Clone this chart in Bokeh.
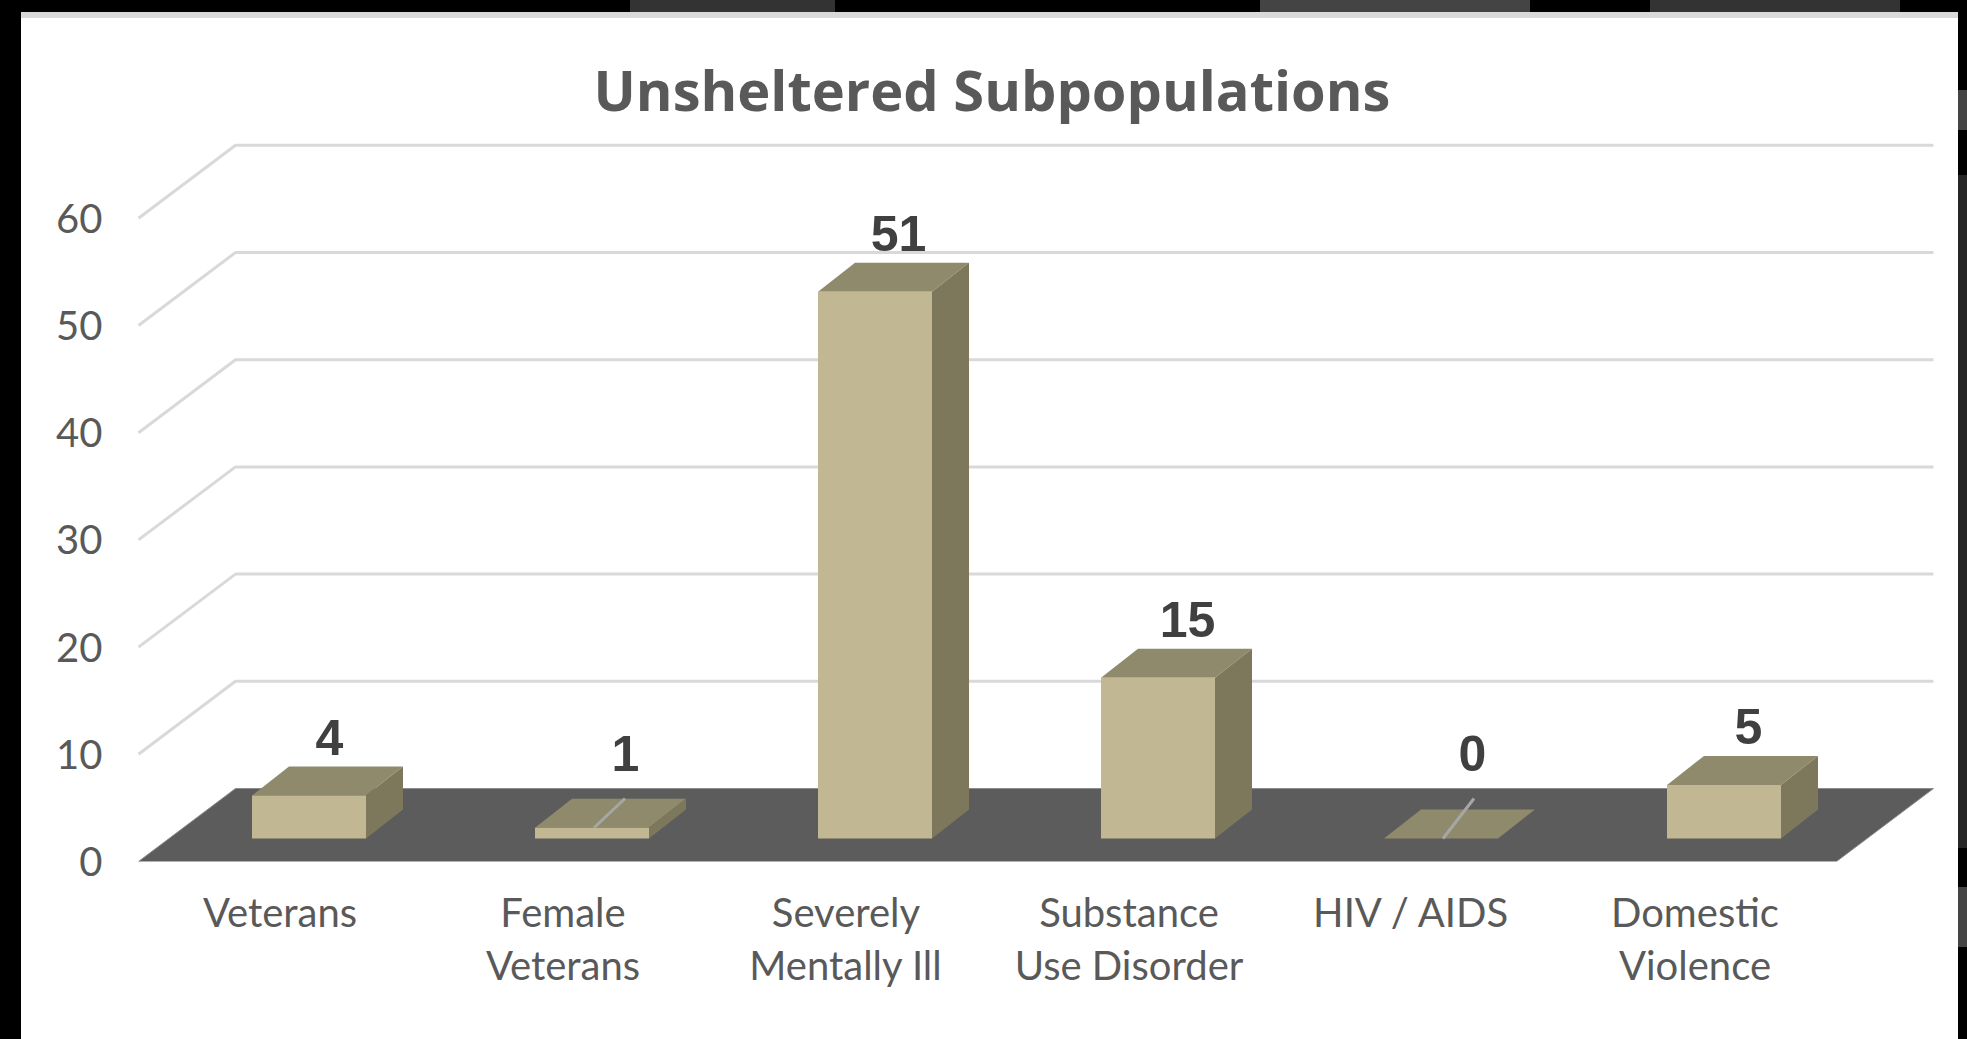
from bokeh.embed import file_html
from bokeh.resources import INLINE
from bokeh.plotting import figure
from bokeh.models import FixedTicker, Range1d, ColumnDataSource, Title
from bokeh.core.properties import value

categories = ["Veterans", "Female\nVeterans", "Severely\nMentally Ill", "Substance\nUse Disorder", "HIV / AIDS", "Domestic\nViolence"]
counts = [4, 1, 51, 15, 0, 5]
label_lift = [0, 1.5, 0, 0, 2.5, 0]
label_shift = [2, 15, 5, 11, 13, 6]
y_ticks = [0, 10, 20, 30, 40, 50, 60]

# oblique projection, in slot / value units
SLOT_PX, UNIT_PX = 283.0, 10.72
FLOOR_DX, FLOOR_DY = 97 / SLOT_PX, 73 / UNIT_PX
BAR_DX, BAR_DY = 37 / SLOT_PX, 29 / UNIT_PX
BAR_L, BAR_W = 113.5 / SLOT_PX, 114 / SLOT_PX
BAR_BASE = 23 / UNIT_PX
N = len(categories)

FRONT, TOP, SIDE, FLOOR, GRID = "#C1B792", "#908A6C", "#7D785C", "#5C5C5C", "#D9D9D9"
LEFT, BOTTOM, RIGHT, CEIL = 118, 861, 1967, 130

p = figure(width=1967, height=1039, output_backend="svg", toolbar_location=None,
           x_range=Range1d((LEFT - 138) / SLOT_PX, (RIGHT - 138) / SLOT_PX),
           y_range=Range1d(0, (BOTTOM - CEIL) / UNIT_PX),
           min_border_left=LEFT, min_border_right=0, min_border_top=CEIL, min_border_bottom=1039 - BOTTOM)
p.border_fill_alpha = 0
p.background_fill_alpha = 0
p.outline_line_color = None
p.grid.visible = False

p.add_layout(Title(text="Unsheltered Subpopulations", align="left", offset=475, standoff=7,
                   text_font="Open Sans", text_font_size="56px", text_font_style="bold", text_color="#595959"), "above")

xa, ya = p.xaxis[0], p.yaxis[0]
xa.ticker = FixedTicker(ticks=[i + 0.5 for i in range(N)])
xa.major_label_overrides = {i + 0.5: c for i, c in enumerate(categories)}
ya.ticker = FixedTicker(ticks=y_ticks)
for a in (xa, ya):
    a.axis_line_color = None
    a.major_tick_line_color = None
    a.minor_tick_line_color = None
    a.major_label_text_font = "Lato"
    a.major_label_text_font_size = "40px"
    a.major_label_text_color = "#595959"
xa.major_label_standoff = 20
xa.major_label_text_line_height = 1.12
ya.major_label_standoff = 10

# gridlines: up the side wall, then along the back wall
p.multi_line([[0, FLOOR_DX, N + FLOOR_DX] for t in y_ticks[1:]],
             [[t, t + FLOOR_DY, t + FLOOR_DY] for t in y_ticks[1:]],
             line_color=GRID, line_width=3)

# floor
p.patch([0, FLOOR_DX, N + FLOOR_DX, N], [0, FLOOR_DY, FLOOR_DY, 0],
        fill_color=FLOOR, line_color="#8C8C8C", line_width=1)

# bars
lefts = [i + BAR_L for i in range(N)]
rights = [x + BAR_W for x in lefts]
tops = [BAR_BASE + v for v in counts]
p.patches([[l, l + BAR_DX, r + BAR_DX, r] for l, r in zip(lefts, rights)],
          [[t, t + BAR_DY, t + BAR_DY, t] for t in tops],
          fill_color=TOP, line_color=None)
p.patches([[r, r + BAR_DX, r + BAR_DX, r] for r in rights],
          [[BAR_BASE, BAR_BASE + BAR_DY, t + BAR_DY, t] for t in tops],
          fill_color=SIDE, line_color=None)
p.quad(left=lefts, right=rights, bottom=BAR_BASE, top=tops, fill_color=FRONT, line_color=None)

# leader lines of the two lifted labels
lead = [i for i, lift in enumerate(label_lift) if lift > 1]
p.segment(x0=[lefts[i] + BAR_W / 2 + 2 / SLOT_PX for i in lead],
          y0=[tops[i] for i in lead],
          x1=[lefts[i] + BAR_W / 2 + 33 / SLOT_PX for i in lead],
          y1=[BAR_BASE + 40 / UNIT_PX for i in lead],
          line_color="#A6A6A6", line_width=3)

# data labels
src = ColumnDataSource(dict(
    x=[l + BAR_W / 2 + BAR_DX / 2 for l in lefts],
    y=[t + BAR_DY + 2.75 + lift for t, lift in zip(tops, label_lift)],
    t=[str(v) for v in counts],
    dx=label_shift,
))
p.text(x="x", y="y", text="t", x_offset="dx", source=src, text_align="center", text_baseline="middle",
       text_font=value("Liberation Sans"), text_font_style="bold", text_font_size="50px", text_color="#404040")

style = """<style>
html,body{margin:0;padding:0;overflow:hidden;background:
 linear-gradient(#D9D9D9,#D9D9D9) no-repeat 21px 12px/1937px 6px,
 linear-gradient(#fff,#fff) no-repeat 21px 18px/1937px 1021px,
 linear-gradient(#333,#333) no-repeat 630px 0/205px 12px,
 linear-gradient(#444,#444) no-repeat 1260px 0/270px 12px,
 linear-gradient(#333,#333) no-repeat 1650px 0/250px 12px,
 linear-gradient(#444,#444) no-repeat 1958px 90px/9px 40px,
 linear-gradient(#262626,#262626) no-repeat 1958px 175px/9px 673px,
 linear-gradient(#444,#444) no-repeat 1958px 887px/9px 60px,
 #000;}
</style></head>"""
open("out.html", "w").write(file_html(p, INLINE).replace("</head>", style, 1))
